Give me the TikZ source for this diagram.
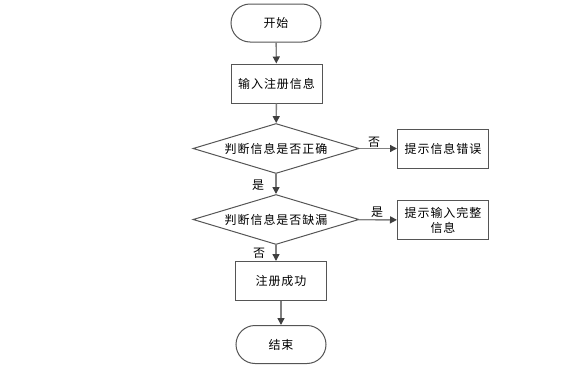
\documentclass[tikz,border=0pt]{standalone}
\usepackage{fontspec}
\setmainfont{Noto Sans CJK SC}[LetterSpace=8]
\usetikzlibrary{shapes.geometric,arrows.meta}
\definecolor{bd}{HTML}{555555}
\definecolor{ln}{HTML}{808080}
\definecolor{hd}{HTML}{404040}
\tikzset{
  every node/.style={font=\fontsize{12pt}{15pt}\selectfont, text=black},
  term/.style={draw=bd, line width=1pt, rounded corners=19pt, minimum width=90pt, minimum height=38pt, inner sep=0pt},
  proc/.style={draw=bd, line width=1pt, minimum width=91pt, minimum height=39pt, inner sep=0pt, align=center},
  dec/.style={draw=bd, line width=1pt, diamond, aspect=3.3, minimum width=166pt, minimum height=50pt, inner sep=0pt},
  arr/.style={draw=ln, line width=1.4pt, -{Triangle[length=7pt,width=7pt,color=hd]}},
  lbl/.style={inner sep=0pt}
}
\begin{document}
\begin{tikzpicture}[x=1pt,y=-1pt]
\useasboundingbox (0,0) rectangle (571,383);
\node[term] (start) at (276,23) {开始};
\node[proc] (input) at (276.5,83.5) {输入注册信息};
\node[dec] (d1) at (276,148.5) {判断信息是否正确};
\node[proc] (err) at (443,148.5) {提示信息错误};
\node[dec] (d2) at (276,219.5) {判断信息是否缺漏};
\node[proc, text width=88pt] (inc) at (443,220) {提示输入完整\\信息};
\node[proc] (ok) at (281,281) {注册成功};
\node[term] (end) at (281,344.5) {结束};
\draw[arr] (start) -- (input);
\draw[arr] (input) -- (d1);
\draw[arr] (d1) -- (err);
\draw[arr] (d1) -- (d2);
\draw[arr] (d2) -- (inc);
\draw[arr] (d2.south) -- (d2.south |- ok.north);
\draw[arr] (ok) -- (end);
\node[lbl] (l1) at (374,142) {否};
\node[lbl] (l2) at (258,185) {是};
\node[lbl] (l3) at (377,212) {是};
\node[lbl] (l4) at (259,253) {否};
\end{tikzpicture}
\end{document}
